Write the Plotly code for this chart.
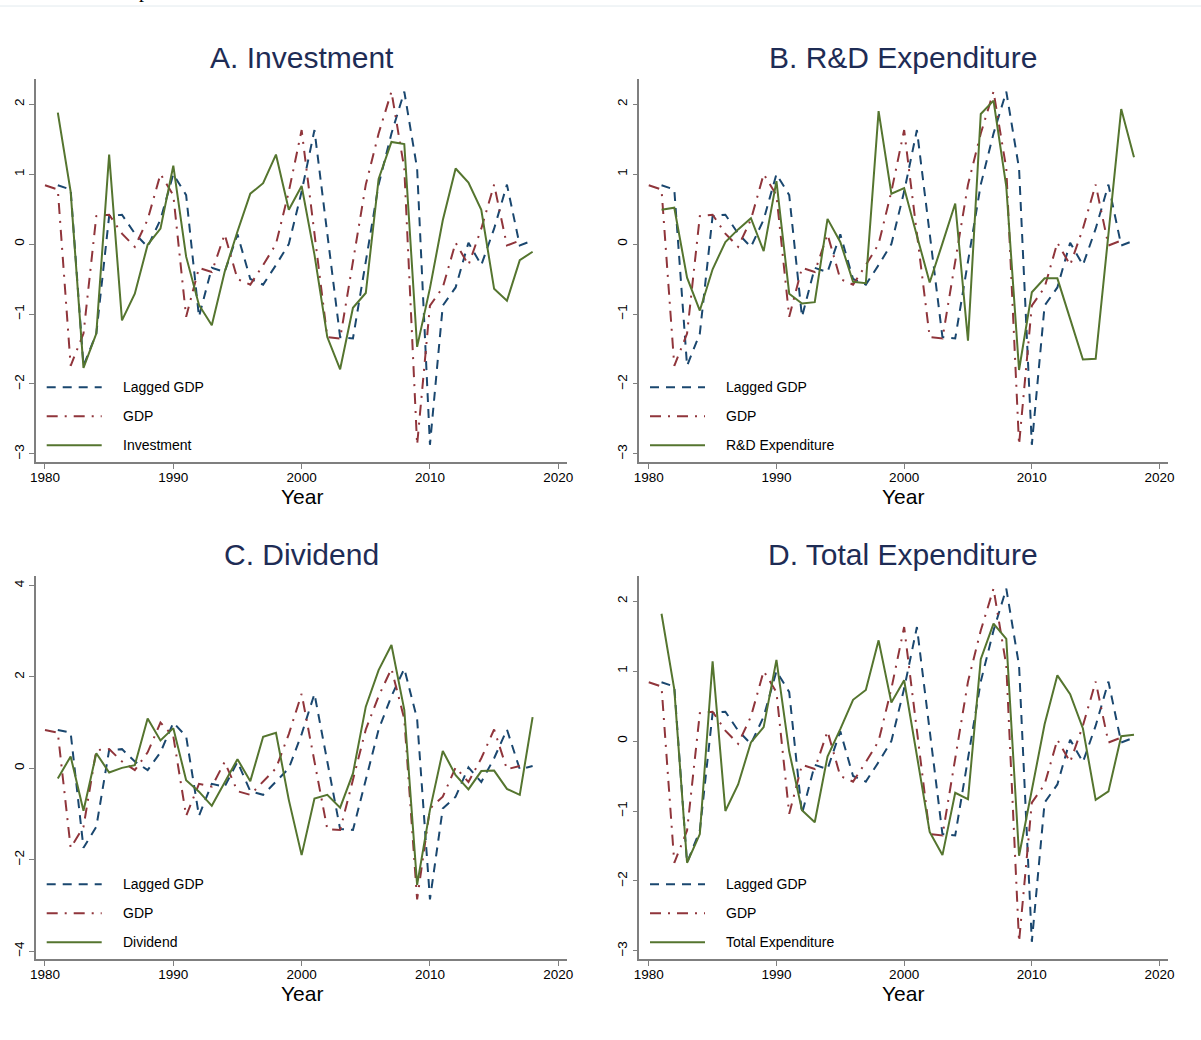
import plotly.graph_objects as go

# ---------------- data ----------------
years_gdp = list(range(1980, 2018))
gdp = [0.84, 0.78, -1.74, -1.28, 0.40, 0.42, 0.15, -0.04, 0.35, 1.00,
       0.70, -1.04, -0.34, -0.40, 0.14, -0.50, -0.58, -0.30, 0.00, 0.75,
       1.63, 0.15, -1.33, -1.35, -0.22, 0.85, 1.58, 2.18, 1.08, -2.87,
       -0.88, -0.62, 0.02, -0.30, 0.22, 0.85, -0.02, 0.05]
years_lag = list(range(1981, 2019))
lagged_gdp = list(gdp)  # the GDP series observed one year later

years_var = list(range(1981, 2019))
investment = [1.88, 0.75, -1.77, -1.28, 1.28, -1.09, -0.71, -0.01, 0.22, 1.12,
              -0.18, -0.87, -1.16, -0.40, 0.18, 0.72, 0.87, 1.28, 0.49, 0.83,
              -0.15, -1.33, -1.79, -0.91, -0.70, 0.93, 1.46, 1.43, -1.47, -0.63,
              0.34, 1.08, 0.88, 0.49, -0.64, -0.81, -0.23, -0.11]
rd_expenditure = [0.49, 0.52, -0.48, -0.95, -0.36, 0.03, 0.21, 0.37, -0.10, 0.90,
                  -0.71, -0.85, -0.83, 0.36, 0.03, -0.54, -0.56, 1.90, 0.72, 0.80,
                  0.12, -0.55, 0.01, 0.58, -1.38, 1.86, 2.05, 0.82, -1.80, -0.69,
                  -0.49, -0.49, -1.07, -1.65, -1.64, 0.15, 1.93, 1.24]
dividend = [-0.22, 0.26, -0.93, 0.33, -0.09, 0.01, 0.07, 1.09, 0.61, 0.88,
            -0.26, -0.51, -0.82, -0.31, 0.20, -0.28, 0.69, 0.78, -0.69, -1.90,
            -0.66, -0.58, -0.86, -0.11, 1.35, 2.15, 2.70, 1.28, -2.55, -0.91,
            0.38, -0.15, -0.46, -0.06, -0.05, -0.45, -0.58, 1.12]
total_expenditure = [1.82, 0.74, -1.74, -1.33, 1.14, -1.00, -0.62, -0.02, 0.20, 1.16,
                     -0.15, -0.99, -1.16, -0.22, 0.17, 0.59, 0.73, 1.44, 0.55, 0.87,
                     -0.21, -1.30, -1.63, -0.74, -0.83, 1.17, 1.68, 1.46, -1.64, -0.70,
                     0.24, 0.94, 0.67, 0.18, -0.84, -0.72, 0.07, 0.09]

panel_titles = ["A. Investment", "B. R&D Expenditure", "C. Dividend", "D. Total Expenditure"]
series_names = ["Investment", "R&D Expenditure", "Dividend", "Total Expenditure"]
series_values = [investment, rd_expenditure, dividend, total_expenditure]
x_tick_vals = [1980, 1990, 2000, 2010, 2020]
y_ticks_std = [-3, -2, -1, 0, 1, 2]
y_ticks_div = [-4, -2, 0, 2, 4]
x_axis_title = "Year"
legend_gdp_lag = "Lagged GDP"
legend_gdp = "GDP"
page_fragment = "p"  # descender of cropped page text above the figure

# ---------------- styling / layout ----------------
W, H = 1201, 1040
FONT = "Liberation Sans, Arial, sans-serif"
NAVY = "#1a476f"
MAROON = "#90353b"
GREEN = "#55752f"
TITLE_COLOR = "#1e2c55"
AXIS_COLOR = "#7f7f7f"

def px(x):
    return x / W

def py(y):
    return 1 - y / H

# pixel frames of each plot region: (left, right, top, bottom)
frames = [
    (36.0, 567.0, 79.0, 462.3),
    (639.3, 1167.7, 79.0, 462.3),
    (36.0, 567.0, 576.0, 959.3),
    (639.3, 1167.7, 576.0, 959.3),
]
x_ranges = [[1979.30, 2020.68], [1979.26, 2020.64], [1979.30, 2020.68], [1979.26, 2020.64]]
y_ranges = [[-3.12, 2.36], [-3.12, 2.36], [-4.18, 4.21], [-3.12, 2.36]]
y_tick_sets = [y_ticks_std, y_ticks_std, y_ticks_div, y_ticks_std]
title_y = [57.5, 57.5, 554.0, 554.0]
year_y = [496.5, 496.5, 993.5, 993.5]

fig = go.Figure()
layout = dict(
    template="none",
    width=W, height=H,
    margin=dict(l=0, r=0, t=0, b=0, pad=0, autoexpand=False),
    paper_bgcolor="white", plot_bgcolor="white",
    showlegend=False,
    font=dict(family=FONT, color="black"),
)

annotations = []
shapes = []

for i in range(4):
    k = "" if i == 0 else str(i + 1)
    L, R, T, B = frames[i]
    xa = "x" + k
    ya = "y" + k
    fig.add_trace(go.Scatter(x=years_lag, y=lagged_gdp, mode="lines", name=legend_gdp_lag,
                             line=dict(color=NAVY, width=2, dash="9px,7px"),
                             xaxis=xa, yaxis=ya))
    fig.add_trace(go.Scatter(x=years_gdp, y=gdp, mode="lines", name=legend_gdp,
                             line=dict(color=MAROON, width=2, dash="11px,7px,2px,7px"),
                             xaxis=xa, yaxis=ya))
    fig.add_trace(go.Scatter(x=years_var, y=series_values[i], mode="lines", name=series_names[i],
                             line=dict(color=GREEN, width=2),
                             xaxis=xa, yaxis=ya))

    layout["xaxis" + k] = dict(
        domain=[px(L), px(R)], anchor=ya, range=x_ranges[i], automargin=False,
        tickvals=x_tick_vals, ticks="outside", ticklen=5, tickwidth=1.3,
        tickcolor=AXIS_COLOR, showline=True, linecolor=AXIS_COLOR, linewidth=1.5,
        showgrid=False, zeroline=False, ticklabelstandoff=-3,
        tickfont=dict(family=FONT, size=13.5, color="black"),
    )
    layout["yaxis" + k] = dict(
        domain=[py(B), py(T)], anchor=xa, range=y_ranges[i], automargin=False,
        tickvals=y_tick_sets[i], ticks="outside", ticklen=5, tickwidth=1.3,
        tickcolor=AXIS_COLOR, showline=True, linecolor=AXIS_COLOR, linewidth=1.5,
        showgrid=False, zeroline=False, tickangle=-90,
        tickfont=dict(family=FONT, size=13.5, color="black"),
    )

    cx = (L + R) / 2
    annotations.append(dict(text=panel_titles[i], x=px(cx), y=py(title_y[i]),
                            xref="paper", yref="paper", xanchor="center", yanchor="middle",
                            showarrow=False, font=dict(family=FONT, size=30, color=TITLE_COLOR)))
    annotations.append(dict(text=x_axis_title, x=px(cx), y=py(year_y[i]),
                            xref="paper", yref="paper", xanchor="center", yanchor="middle",
                            showarrow=False, font=dict(family=FONT, size=21, color="black")))

    # legend (inside bottom-left)
    entries = [(legend_gdp_lag, NAVY, "9px,7px"),
               (legend_gdp, MAROON, "11px,7px,2px,7px"),
               (series_names[i], GREEN, "solid")]
    offsets = [-75.0, -46.0, -17.0]
    for (label, col, dash), off in zip(entries, offsets):
        yy = B + off
        shapes.append(dict(type="line", xref="paper", yref="paper",
                           x0=px(L + 10.7), x1=px(L + 65.7), y0=py(yy), y1=py(yy),
                           line=dict(color=col, width=2, dash=dash)))
        annotations.append(dict(text=label, x=px(L + 85.0), y=py(yy),
                                xref="paper", yref="paper", xanchor="left", yanchor="middle",
                                showarrow=False, font=dict(family=FONT, size=14, color="black")))

# thin page rule at the top and the cropped glyph above it
shapes.append(dict(type="line", xref="paper", yref="paper", x0=0, x1=1,
                   y0=py(6), y1=py(6), line=dict(color="#e2eaee", width=1)))
annotations.append(dict(text=page_fragment, x=px(136.5), y=py(4.5),
                        xref="paper", yref="paper", xanchor="left", yanchor="bottom",
                        showarrow=False,
                        font=dict(family="Liberation Serif, serif", size=20, color="black")))

layout["annotations"] = annotations
layout["shapes"] = shapes
fig.update_layout(**layout)

fig.write_html("out.html")
